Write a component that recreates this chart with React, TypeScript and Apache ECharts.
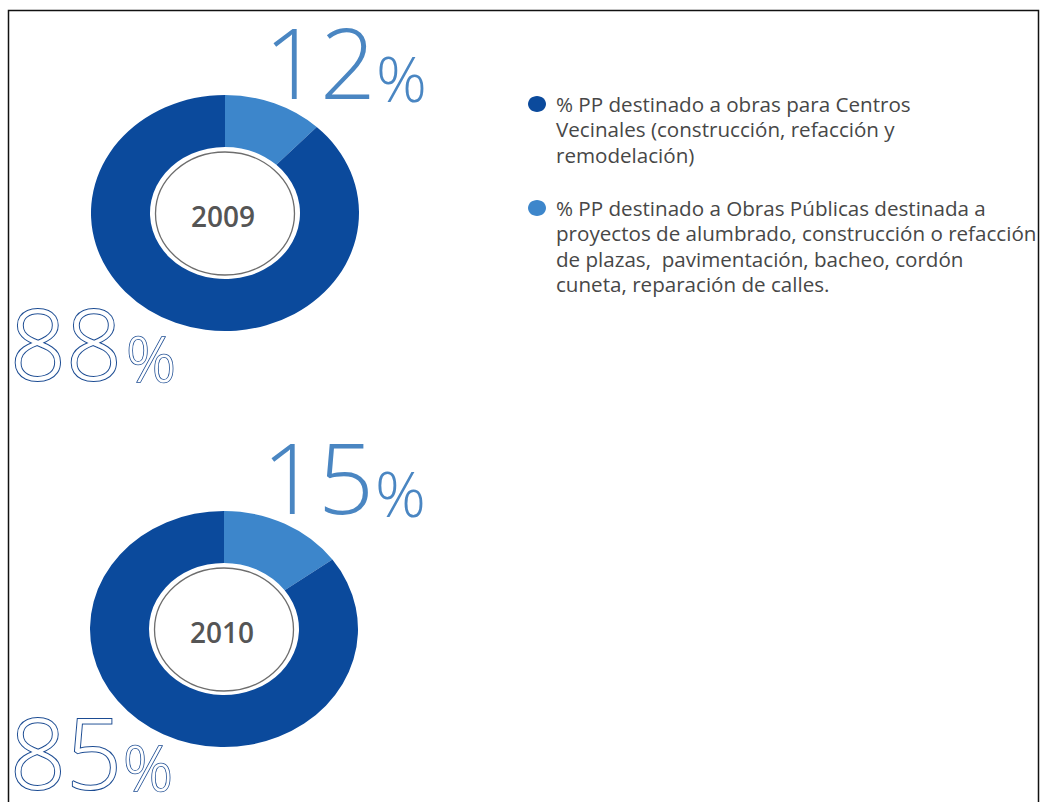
import React, { useEffect, useRef } from "react";
import * as echarts from "echarts";

const years = ["2009", "2010"];
const centrosVecinales = [88, 85];
const obrasPublicas = [12, 15];
const legendLabels = [
  "% PP destinado a obras para Centros\nVecinales (construcción, refacción y\nremodelación)",
  "% PP destinado a Obras Públicas destinada a\nproyectos de alumbrado, construcción o refacción\nde plazas,  pavimentación, bacheo, cordón\ncuneta, reparación de calles.",
];

const DARK = "#0B4A9C";
const LIGHT = "#3D86CB";
const RX = 134;
const RY = 118;
const R0 = 75;
const centers = [
  [225, 213],
  [224, 629],
];

export default function App() {
  const ref = useRef<HTMLDivElement>(null);
  useEffect(() => {
    document.body.style.margin = "0";
    const chart = echarts.init(ref.current!, null, { renderer: "svg" });

    const series: any[] = years.map((year, i) => {
      const values = [obrasPublicas[i], centrosVecinales[i]];
      const total = values.reduce((a, b) => a + b, 0);
      const [cx, cy] = centers[i];
      return {
        type: "custom",
        name: year,
        coordinateSystem: "none",
        silent: true,
        data: [
          { name: "Obras Públicas", value: values[0], itemStyle: { color: LIGHT } },
          { name: "Centros Vecinales", value: values[1], itemStyle: { color: DARK } },
        ],
        renderItem: (params: any, api: any) => {
          const idx = params.dataIndex;
          let before = 0;
          for (let k = 0; k < idx; k++) before += values[k];
          const start = -Math.PI / 2 + (before / total) * Math.PI * 2;
          const end = start + (api.value(0) / total) * Math.PI * 2;
          return {
            type: "sector",
            x: cx,
            y: cy,
            scaleY: RY / RX,
            shape: { cx: 0, cy: 0, r: RX, r0: R0, startAngle: start, endAngle: end, clockwise: true },
            style: { fill: api.visual("color") },
          };
        },
      };
    });

    const graphics: any[] = [
      {
        type: "rect",
        shape: { x: 8.5, y: 10.5, width: 1030, height: 820 },
        style: { fill: "none", stroke: "#111", lineWidth: 1.5 },
        z: 10,
      },
    ];

    years.forEach((year, i) => {
      const [cx, cy] = centers[i];
      graphics.push({
        type: "ellipse",
        shape: { cx, cy: cy + 0.5, rx: 69.5, ry: 61.5 },
        style: { fill: "#fff", stroke: "#6d6d6d", lineWidth: 1.3 },
        z: 5,
      });
      graphics.push({
        type: "text",
        x: cx - 2,
        y: cy + 3,
        style: {
          text: year,
          fill: "#555",
          font: "600 28px 'Open Sans'",
          align: "center",
          verticalAlign: "middle",
        },
        z: 6,
      });
    });

    // [digitsX, digitsY, percentX, percentY]
    const smallPos = [
      [264, 61, 376, 77],
      [262, 476, 375, 492],
    ];
    const bigPos = [
      [10, 342, 126, 358],
      [10, 751, 123, 767],
    ];
    const smallColor = "#4A86C2";
    const bigColor = "#1B4B92";
    years.forEach((_y, i) => {
      const s = smallPos[i];
      graphics.push({
        type: "text",
        x: s[0],
        y: s[1],
        style: {
          text: String(obrasPublicas[i]),
          font: "200 98px 'Open Sans'",
          lineHeight: 74,
          fill: smallColor,
          verticalAlign: "middle",
        },
        z: 6,
      });
      graphics.push({
        type: "text",
        x: s[2],
        y: s[3],
        style: {
          text: "%",
          font: "200 63px 'Open Sans'",
          lineHeight: 46,
          fill: smallColor,
          verticalAlign: "middle",
        },
        z: 6,
      });
      const b = bigPos[i];
      graphics.push({
        type: "text",
        x: b[0],
        y: b[1],
        style: {
          text: String(centrosVecinales[i]),
          font: "300 98px 'Open Sans'",
          lineHeight: 74,
          fill: "#fff",
          stroke: bigColor,
          lineWidth: 2,
          verticalAlign: "middle",
        },
        z: 6,
      });
      graphics.push({
        type: "text",
        x: b[2],
        y: b[3],
        style: {
          text: "%",
          font: "300 62px 'Open Sans'",
          lineHeight: 46,
          fill: "#fff",
          stroke: bigColor,
          lineWidth: 1.6,
          verticalAlign: "middle",
        },
        z: 6,
      });
    });

    const legendColors = [DARK, LIGHT];
    const legendY = [104, 208];
    legendLabels.forEach((label, i) => {
      graphics.push({
        type: "ellipse",
        shape: { cx: 537, cy: legendY[i], rx: 9, ry: 8 },
        style: { fill: legendColors[i] },
      });
      graphics.push({
        type: "text",
        x: 556,
        y: legendY[i] - 13,
        style: {
          text: label,
          font: "20.6px 'Open Sans'",
          fill: "#474747",
          lineHeight: 25.5,
          verticalAlign: "top",
        },
      });
    });

    chart.setOption({
      animation: false,
      backgroundColor: "#fff",
      series,
      graphic: graphics,
    });
    return () => chart.dispose();
  }, []);
  return <div ref={ref} style={{ width: 1042, height: 802 }} />;
}
